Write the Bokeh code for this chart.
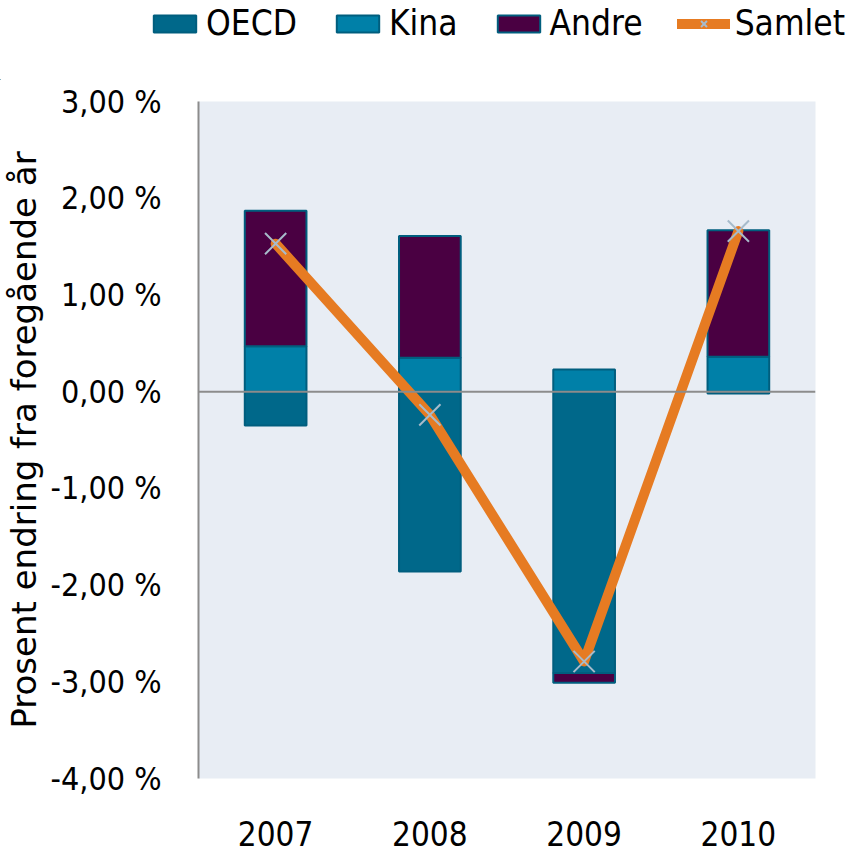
from bokeh.plotting import figure
from bokeh.models import ColumnDataSource, Legend, LegendItem, Span, FixedTicker, CustomJSTickFormatter
from bokeh.embed import file_html
from bokeh.resources import INLINE

years = ["2007", "2008", "2009", "2010"]
oecd = [-0.35, -1.86, -2.91, -0.02]
kina = [0.47, 0.35, 0.23, 0.36]
andre = [1.40, 1.26, -0.10, 1.31]
samlet = [1.53, -0.24, -2.79, 1.66]
y_ticks = [-4, -3, -2, -1, 0, 1, 2, 3]
series_names = ["OECD", "Kina", "Andre"]

FONT = "DejaVu Sans Condensed"
C_OECD = "#00688A"
C_KINA = "#0080A8"
C_ANDRE = "#4A0042"
C_EDGE = "#005E7E"
C_LINE = "#E67B22"
C_MARK = "#A7BBCB"
colors = [C_OECD, C_KINA, C_ANDRE]

def stack(series_list):
    pos = [0.0] * len(years)
    neg = [0.0] * len(years)
    out = []
    for s in series_list:
        b, t = [], []
        for i, v in enumerate(s):
            if v >= 0:
                b.append(pos[i]); t.append(pos[i] + v); pos[i] += v
            else:
                t.append(neg[i]); b.append(neg[i] + v); neg[i] += v
        out.append((b, t))
    return out

stacks = stack([oecd, kina, andre])

# ---------------- main chart ----------------
p = figure(x_range=years, y_range=(-4, 3), width=857, height=775,
           output_backend="svg", toolbar_location=None,
           min_border_left=198, min_border_right=42, min_border_top=21, min_border_bottom=77)
p.background_fill_color = "#E8EDF4"
p.border_fill_color = "white"
p.outline_line_color = None
p.xgrid.visible = False
p.ygrid.visible = False

for (b, t), col in zip(stacks, colors):
    src = ColumnDataSource(dict(x=years, bottom=b, top=t))
    p.vbar(x="x", bottom="bottom", top="top", width=0.4, source=src,
           fill_color=col, line_color=C_EDGE, line_width=2)

p.add_layout(Span(location=0, dimension="width", line_color="#8C8C8C", line_width=2))

lsrc = ColumnDataSource(dict(x=years, y=samlet))
p.line("x", "y", source=lsrc, line_color=C_LINE, line_width=10, line_cap="round", line_join="round")
p.scatter("x", "y", source=lsrc, marker="x", size=30, line_color=C_MARK, line_width=2)

p.yaxis.ticker = FixedTicker(ticks=y_ticks)
p.yaxis.formatter = CustomJSTickFormatter(code="return tick.toFixed(2).replace('.', ',') + ' %';")
p.yaxis.axis_line_color = "#8C8C8C"
p.yaxis.axis_line_width = 2
p.yaxis.major_tick_line_color = None
p.yaxis.minor_tick_line_color = None
p.yaxis.major_label_text_font = FONT
p.yaxis.major_label_text_font_size = "32px"
p.yaxis.major_label_text_color = "black"
p.yaxis.major_label_standoff = 31
p.yaxis.axis_label = "Prosent endring fra foregående år"
p.yaxis.axis_label_text_font = "DejaVu Sans"
p.yaxis.axis_label_text_font_size = "34px"
p.yaxis.axis_label_text_font_style = "normal"
p.yaxis.axis_label_text_color = "black"
p.yaxis.axis_label_standoff = 4

p.xaxis.axis_line_color = None
p.xaxis.major_tick_line_color = None
p.xaxis.minor_tick_line_color = None
p.xaxis.major_label_text_font = FONT
p.xaxis.major_label_text_font_size = "33px"
p.xaxis.major_label_text_color = "black"
p.xaxis.major_label_standoff = 36

# ---------------- legend strip (separate root, no frame alignment) ----------------
lg = figure(width=857, height=80, x_range=(0, 1), y_range=(0, 1),
            output_backend="svg", toolbar_location=None,
            x_axis_type=None, y_axis_type=None,
            min_border_left=0, min_border_right=0, min_border_top=0, min_border_bottom=0)
lg.outline_line_color = None
lg.border_fill_color = "white"
lg.background_fill_color = "white"
lg.xgrid.visible = False
lg.ygrid.visible = False

items = []
for name, col in zip(series_names, colors):
    r = lg.vbar(x=[-5], top=[-5], bottom=[-6], width=0.4, fill_color=col, line_color=C_EDGE, line_width=2)
    items.append(LegendItem(label=name, renderers=[r]))
rl = lg.line(x=[-5, -4], y=[-5, -5], line_color=C_LINE, line_width=10, line_cap="round")
rm = lg.scatter(x=[-5], y=[-5], marker="x", size=24, line_color=C_MARK, line_width=2)
items.append(LegendItem(label="Samlet", renderers=[rl, rm]))

legend = Legend(items=items, orientation="horizontal", location=(148, 37))
legend.label_text_font = FONT
legend.label_text_font_size = "35px"
legend.label_text_color = "black"
legend.glyph_width = 53
legend.glyph_height = 21
legend.label_standoff = 5
legend.spacing = 34
legend.border_line_color = None
legend.background_fill_alpha = 0
legend.padding = 0
legend.margin = 0
lg.add_layout(legend, "center")

open("out.html", "w").write(file_html([lg, p], INLINE))
